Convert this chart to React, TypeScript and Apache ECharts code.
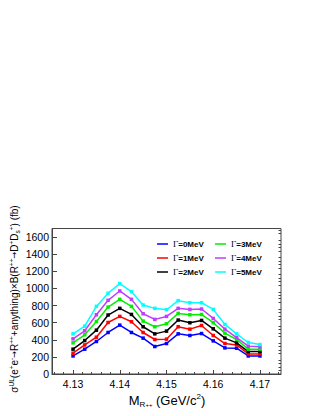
import React, { useEffect, useRef } from "react";
import * as echarts from "echarts";

const masses = [4.13, 4.1325, 4.135, 4.1375, 4.14, 4.1425, 4.145, 4.1475, 4.15, 4.1525, 4.155, 4.1575, 4.16, 4.1625, 4.165, 4.1675, 4.17];

const gamma0 = [211, 290, 380, 485, 571, 485, 419, 321, 356, 469, 450, 473, 387, 305, 301, 211, 211];
const gamma1 = [243, 340, 430, 602, 673, 610, 485, 403, 407, 552, 524, 567, 450, 356, 340, 235, 235];
const gamma2 = [290, 391, 512, 689, 767, 696, 552, 469, 501, 630, 599, 626, 528, 419, 364, 262, 262];
const gamma3 = [364, 458, 614, 782, 872, 790, 618, 552, 587, 708, 692, 696, 599, 477, 403, 290, 290];
const gamma4 = [411, 505, 692, 861, 970, 872, 704, 638, 673, 767, 755, 759, 649, 524, 426, 325, 317];
const gamma5 = [469, 559, 790, 943, 1056, 962, 806, 767, 751, 857, 833, 833, 755, 579, 469, 368, 344];

const seriesNames = ["Γ=0MeV", "Γ=1MeV", "Γ=2MeV", "Γ=3MeV", "Γ=4MeV", "Γ=5MeV"];
const seriesColors = ["#0000ff", "#ff0000", "#000000", "#00ee00", "#c03cff", "#00ffff"];
const seriesData = [gamma0, gamma1, gamma2, gamma3, gamma4, gamma5];

const xMajorTicks = [4.13, 4.14, 4.15, 4.16, 4.17];
const xMinorTicks = [4.126, 4.128, 4.132, 4.134, 4.136, 4.138, 4.142, 4.144, 4.146, 4.148, 4.152, 4.154, 4.156, 4.158, 4.162, 4.164, 4.166, 4.168, 4.172, 4.174];
const yMajorTicks = [0, 200, 400, 600, 800, 1000, 1200, 1400, 1600];
const yMinorTicks = [40, 80, 120, 160, 240, 280, 320, 360, 440, 480, 520, 560, 640, 680, 720, 760, 840, 880, 920, 960, 1040, 1080, 1120, 1160, 1240, 1280, 1320, 1360, 1440, 1480, 1520, 1560, 1640, 1680];

const FONT = "'Liberation Sans Narrow', 'Liberation Sans', Arial, sans-serif";
const FONT2 = "'Liberation Sans', Arial, sans-serif";
const ARROWFONT = "'DejaVu Sans Condensed', 'DejaVu Sans', sans-serif";

export default function App() {
  const ref = useRef<HTMLDivElement>(null);
  useEffect(() => {
    const chart = echarts.init(ref.current!, null, { renderer: "svg" });
    const xMin = 4.1255;
    const xMax = 4.1745;
    const legendText = (name: string) => "{g|Γ}" + name.slice(1);
    const legendRich = {
      g: { fontFamily: "'Liberation Serif', serif", fontSize: 9, fontWeight: "normal", color: "#000" },
    };
    chart.setOption({
      animation: false,
      grid: { left: 52, right: 41, top: 228.5, bottom: 42, show: true, borderColor: "#444", borderWidth: 1, backgroundColor: "transparent" },
      legend: [
        {
          data: seriesNames.slice(0, 3),
          orient: "vertical",
          left: 152,
          top: 234,
          itemWidth: 11,
          itemHeight: 1.5,
          itemGap: 4,
          icon: "rect",
          formatter: legendText,
          textStyle: { fontFamily: FONT2, fontSize: 8, fontWeight: "bold", color: "#000", lineHeight: 10, rich: legendRich },
        },
        {
          data: seriesNames.slice(3),
          orient: "vertical",
          left: 210,
          top: 234,
          itemWidth: 11,
          itemHeight: 1.5,
          itemGap: 4,
          icon: "rect",
          formatter: legendText,
          textStyle: { fontFamily: FONT2, fontSize: 8, fontWeight: "bold", color: "#000", lineHeight: 10, rich: legendRich },
        },
      ],
      xAxis: [
        {
          type: "value",
          min: xMin,
          max: xMax,
          position: "bottom",
          axisLine: { show: true, onZero: false, lineStyle: { color: "#444", width: 1 } },
          axisTick: { show: true, inside: true, length: 4, customValues: xMajorTicks, lineStyle: { color: "#444" } },
          axisLabel: { show: true, customValues: xMajorTicks, formatter: (v: number) => v.toFixed(2), fontFamily: FONT, fontSize: 10.5, color: "#000", margin: 4 },
          splitLine: { show: false },
        },
        {
          type: "value",
          min: xMin,
          max: xMax,
          position: "bottom",
          axisLine: { show: false, onZero: false },
          axisTick: { show: true, inside: true, length: 2, customValues: xMinorTicks, lineStyle: { color: "#444" } },
          axisLabel: { show: false },
          splitLine: { show: false },
        },
      ],
      yAxis: [
        {
          type: "value",
          min: 0,
          max: 1700,
          axisLine: { show: true, lineStyle: { color: "#444", width: 1 } },
          axisTick: { show: true, inside: true, length: 5, customValues: yMajorTicks, lineStyle: { color: "#444" } },
          axisLabel: { show: true, customValues: yMajorTicks, formatter: (v: number) => String(Math.round(v)), fontFamily: FONT, fontSize: 10.5, color: "#000", margin: 3 },
          splitLine: { show: false },
        },
        {
          type: "value",
          min: 0,
          max: 1700,
          axisLine: { show: false },
          axisTick: { show: true, inside: true, length: 2.5, customValues: yMinorTicks, lineStyle: { color: "#444" } },
          axisLabel: { show: false },
          splitLine: { show: false },
        },
      ],
      series: seriesData.map((d, i) => ({
        name: seriesNames[i],
        type: "line",
        data: masses.map((m, j) => [m, d[j]]),
        color: seriesColors[i],
        lineStyle: { width: 1.5, color: seriesColors[i] },
        itemStyle: { color: seriesColors[i] },
        symbol: "rect",
        symbolSize: 3.5,
        z: 3 + i,
      })),
      graphic: [
        {
          type: "text",
          x: 167,
          y: 400,
          style: {
            text: "{m|M}{sub|R}{ss|++}{m| (GeV/c}{sup|2}{m|)}",
            align: "center",
            verticalAlign: "middle",
            rich: {
              m: { fontFamily: FONT, fontSize: 13, lineHeight: 16, verticalAlign: "middle", fill: "#000" },
              sub: { fontFamily: FONT, fontSize: 8, lineHeight: 8, verticalAlign: "bottom", fill: "#000" },
              ss: { fontFamily: FONT, fontSize: 6, lineHeight: 14, verticalAlign: "bottom", fill: "#000" },
              sup: { fontFamily: FONT, fontSize: 8, lineHeight: 8, verticalAlign: "top", fill: "#000" },
            },
          },
        },
        {
          type: "text",
          x: 14,
          y: 299,
          rotation: Math.PI / 2,
          style: {
            text:
              "{m|σ}{sup|UL}{m|(e}{sup|+}{m|e}{sup|-}{a|→}{m|R}{sup|++}{m|+anything)×B(R}{sup|++}{a|→}{m|D}{sup|+}{m|D}{sub|s}{sup|+}{m|) (fb)}",
            align: "center",
            verticalAlign: "middle",
            rich: {
              m: { fontFamily: FONT, fontSize: 10, lineHeight: 13, verticalAlign: "middle", fill: "#000" },
              a: { fontFamily: ARROWFONT, fontSize: 9, lineHeight: 13, verticalAlign: "middle", fill: "#000" },
              sup: { fontFamily: FONT, fontSize: 6.5, lineHeight: 6.5, verticalAlign: "top", fill: "#000" },
              sub: { fontFamily: FONT, fontSize: 6.5, lineHeight: 6.5, verticalAlign: "bottom", fill: "#000" },
            },
          },
        },
      ],
    });
    return () => chart.dispose();
  }, []);
  return <div ref={ref} style={{ width: 322, height: 416, position: "absolute", left: 0, top: 0 }} />;
}
